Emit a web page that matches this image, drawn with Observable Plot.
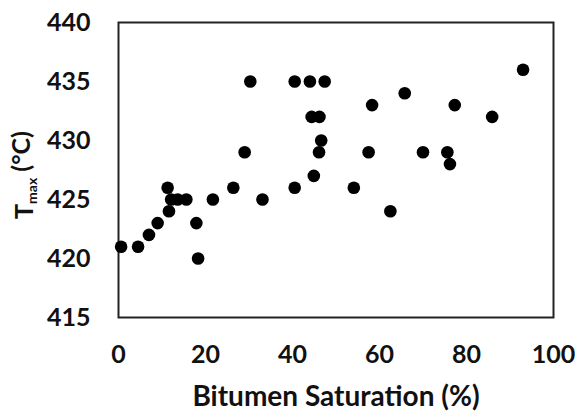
<!DOCTYPE html>
<html><head><meta charset="utf-8">
<script src="https://cdn.jsdelivr.net/npm/d3@7"></script>
<script src="https://cdn.jsdelivr.net/npm/@observablehq/plot@0.6"></script>
<style>
body{margin:0;background:#fff;}
</style>
</head><body>
<div id="chart"></div>
<script>
const saturation = [0.6,4.5,7.0,9.0,11.6,11.3,12.1,13.6,15.6,17.9,18.3,21.7,26.4,30.3,29.0,33.1,40.5,40.5,44.0,47.4,44.4,46.2,46.6,46.1,44.9,58.3,65.8,57.5,54.1,62.5,70.0,75.6,76.2,77.3,85.9,93.0];
const tmax =       [421,421,422,423,424,426,425,425,425,423,420,425,426,435,429,425,435,426,435,435,432,432,430,429,427,433,434,429,426,424,429,429,428,433,432,436];
const xTicks = [0,20,40,60,80,100];
const yTicks = [415,420,425,430,435,440];
const xLabel = "Bitumen Saturation (%)";

const data = saturation.map((s,i)=>({s, t: tmax[i]}));
const FONT = "Lato, 'Open Sans', sans-serif";

const chart = Plot.plot({
  width: 581, height: 412,
  marginLeft: 118, marginRight: 28, marginTop: 22, marginBottom: 95,
  style: {fontFamily: FONT, fontSize: "25px", fontWeight: "bold", color: "#111", background: "#fff"},
  x: {domain: [0,100], ticks: xTicks, tickSize: 0, label: null},
  y: {domain: [415,440], ticks: yTicks, tickSize: 0, label: null},
  marks: [
    Plot.frame({stroke: "#222", strokeWidth: 2}),
    Plot.dot(data, {x: "s", y: "t", r: 6.3, fill: "#000", stroke: "none"}),
    Plot.axisX({ticks: xTicks, tickSize: 0, tickPadding: 28, fontSize: 25, fontWeight: "bold"}),
    Plot.axisY({ticks: yTicks, tickSize: 0, tickPadding: 28, fontSize: 25, fontWeight: "bold"}),
    Plot.text([xLabel], {frameAnchor: "bottom", dy: 88, fontSize: 28, fontWeight: "bold", fill: "#111"})
  ]
});
document.getElementById("chart").appendChild(chart);

// y-axis title with subscript
const svg = d3.select(chart);
const t = svg.append("text")
  .attr("transform", "translate(33,175) rotate(-90)")
  .attr("text-anchor", "middle")
  .attr("fill", "#111")
  .style("font-family", FONT)
  .style("font-weight", "bold")
  .style("font-size", "25px");
t.append("tspan").text("T");
t.append("tspan").attr("dy", "0.25em").style("font-size", "14px").text("max");
t.append("tspan").attr("dy", "-0.25em").text(" (°C)");
</script>
</body></html>
